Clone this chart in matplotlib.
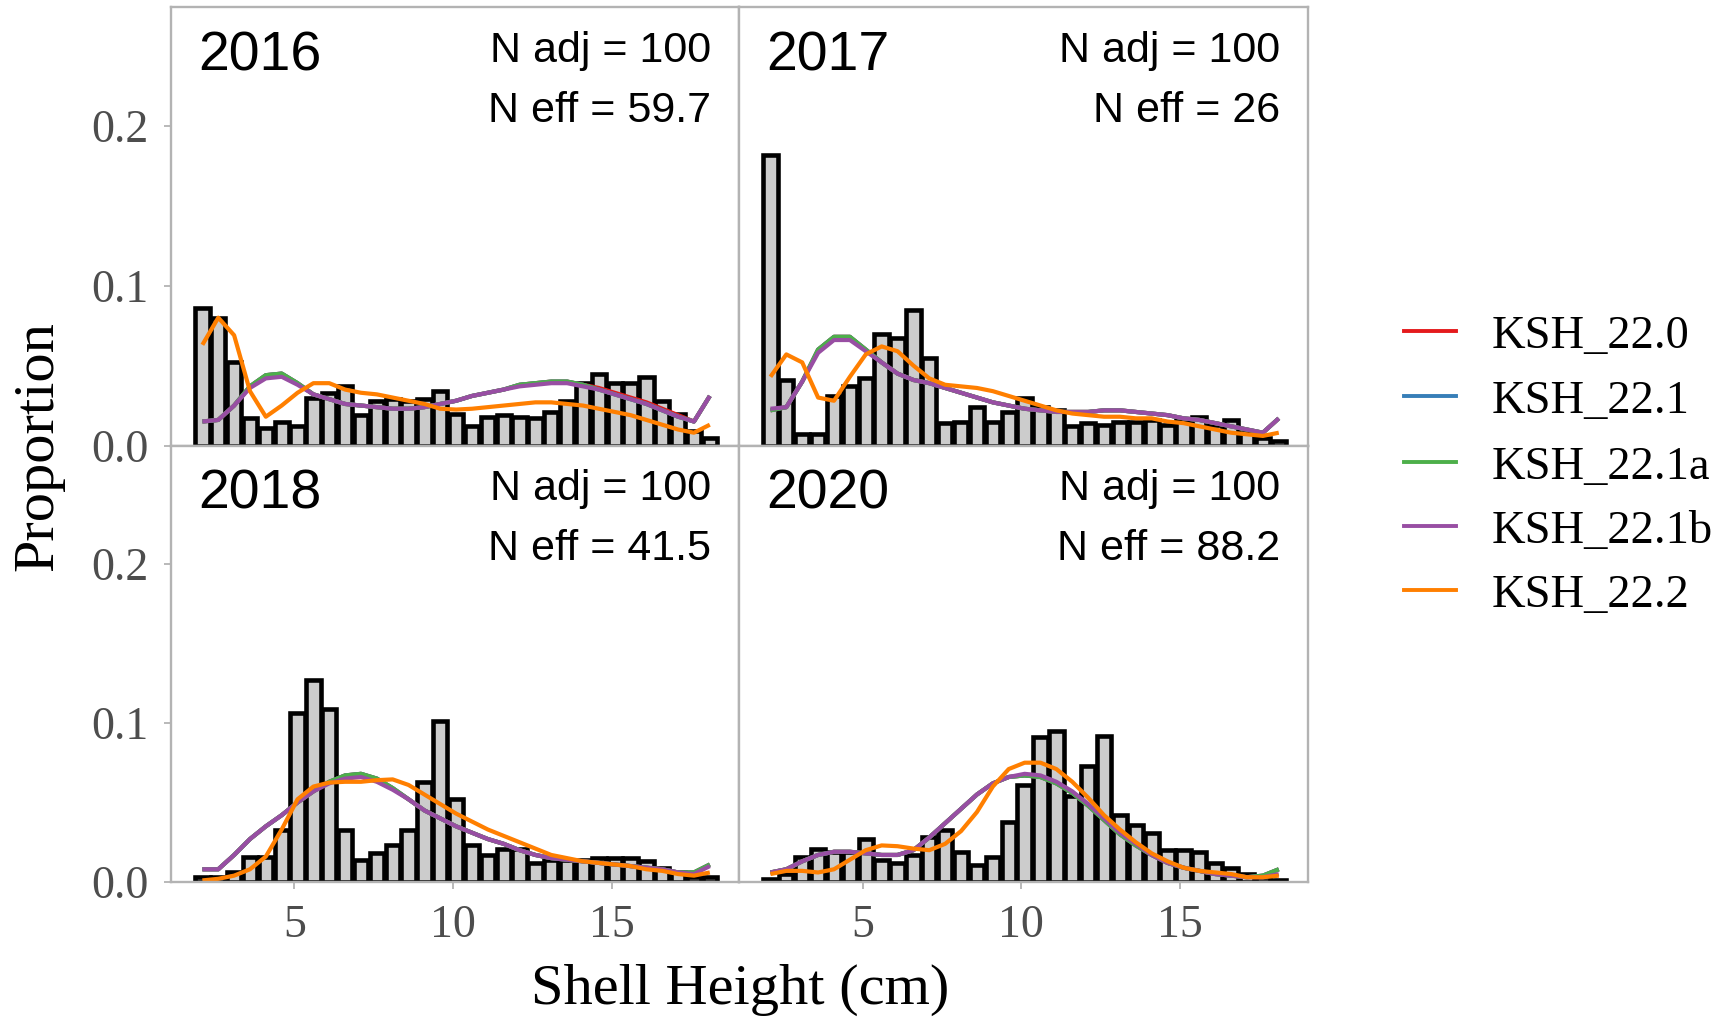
import matplotlib
matplotlib.use("Agg")
import matplotlib.pyplot as plt
from matplotlib.lines import Line2D

plt.rcParams['font.family'] = ['Liberation Serif', 'DejaVu Serif']

# ---------------- data ----------------
shell_height = [2.1, 2.6, 3.1, 3.6, 4.1, 4.6, 5.1, 5.6, 6.1, 6.6, 7.1, 7.6, 8.1, 8.6, 9.1, 9.6,
                10.1, 10.6, 11.1, 11.6, 12.1, 12.6, 13.1, 13.6, 14.1, 14.6, 15.1, 15.6, 16.1,
                16.6, 17.1, 17.6, 18.1]

years = ['2016', '2017', '2018', '2020']
n_adj = ['100', '100', '100', '100']
n_eff = ['59.7', '26', '41.5', '88.2']
models = ['KSH_22.0', 'KSH_22.1', 'KSH_22.1a', 'KSH_22.1b', 'KSH_22.2']
model_colors = ['#E41A1C', '#377EB8', '#4DAF4A', '#984EA3', '#FF7F00']

obs_2016 = [0.086, 0.080, 0.052, 0.017, 0.011, 0.015, 0.012, 0.030, 0.033, 0.037, 0.019, 0.028,
            0.029, 0.028, 0.029, 0.034, 0.020, 0.012, 0.018, 0.019, 0.018, 0.017, 0.021, 0.028,
            0.039, 0.045, 0.039, 0.039, 0.043, 0.028, 0.020, 0.009, 0.005]
obs_2017 = [0.182, 0.041, 0.007, 0.007, 0.031, 0.037, 0.042, 0.070, 0.067, 0.085, 0.055, 0.014,
            0.015, 0.024, 0.015, 0.021, 0.030, 0.024, 0.022, 0.012, 0.014, 0.013, 0.015, 0.015,
            0.016, 0.013, 0.016, 0.018, 0.013, 0.016, 0.008, 0.005, 0.003]
obs_2018 = [0.003, 0.003, 0.006, 0.016, 0.016, 0.033, 0.106, 0.127, 0.109, 0.033, 0.014, 0.018,
            0.023, 0.033, 0.063, 0.101, 0.052, 0.023, 0.017, 0.021, 0.021, 0.012, 0.014, 0.014,
            0.014, 0.015, 0.015, 0.015, 0.013, 0.009, 0.006, 0.003, 0.003]
obs_2020 = [0.002, 0.005, 0.016, 0.021, 0.019, 0.019, 0.027, 0.014, 0.012, 0.017, 0.028, 0.033,
            0.019, 0.011, 0.016, 0.038, 0.061, 0.091, 0.095, 0.054, 0.073, 0.092, 0.042, 0.036,
            0.031, 0.020, 0.020, 0.019, 0.012, 0.009, 0.005, 0.003, 0.001]

# model fits, 2016
fit220_2016 = [0.015, 0.016, 0.025, 0.037, 0.044, 0.045, 0.039, 0.032, 0.029, 0.026, 0.025, 0.024,
               0.023, 0.023, 0.024, 0.026, 0.028, 0.031, 0.033, 0.035, 0.038, 0.039, 0.040, 0.040,
               0.038, 0.036, 0.033, 0.030, 0.027, 0.023, 0.019, 0.015, 0.031]
fit221_2016 = [0.015, 0.016, 0.025, 0.037, 0.044, 0.045, 0.039, 0.032, 0.029, 0.026, 0.025, 0.024,
               0.023, 0.023, 0.024, 0.026, 0.028, 0.031, 0.033, 0.035, 0.038, 0.039, 0.040, 0.040,
               0.038, 0.035, 0.032, 0.029, 0.026, 0.022, 0.018, 0.015, 0.031]
fit221a_2016 = [0.015, 0.016, 0.025, 0.037, 0.044, 0.045, 0.039, 0.032, 0.029, 0.026, 0.025, 0.024,
                0.023, 0.023, 0.024, 0.026, 0.028, 0.031, 0.033, 0.035, 0.038, 0.039, 0.040, 0.040,
                0.038, 0.035, 0.032, 0.029, 0.026, 0.022, 0.018, 0.015, 0.031]
fit221b_2016 = [0.015, 0.016, 0.025, 0.036, 0.042, 0.043, 0.038, 0.032, 0.029, 0.026, 0.025, 0.024,
                0.023, 0.023, 0.024, 0.026, 0.028, 0.031, 0.033, 0.035, 0.037, 0.038, 0.039, 0.039,
                0.037, 0.035, 0.032, 0.029, 0.026, 0.022, 0.018, 0.015, 0.031]
fit222_2016 = [0.063, 0.080, 0.069, 0.034, 0.018, 0.025, 0.033, 0.039, 0.039, 0.035, 0.033, 0.032,
               0.030, 0.028, 0.026, 0.023, 0.0225, 0.023, 0.024, 0.025, 0.026, 0.027, 0.027, 0.026,
               0.025, 0.023, 0.021, 0.019, 0.016, 0.013, 0.010, 0.008, 0.013]

# model fits, 2017
fit220_2017 = [0.022, 0.024, 0.040, 0.060, 0.068, 0.068, 0.060, 0.052, 0.045, 0.041, 0.039, 0.036,
               0.033, 0.030, 0.027, 0.025, 0.023, 0.022, 0.021, 0.021, 0.021, 0.022, 0.022, 0.021,
               0.020, 0.019, 0.017, 0.016, 0.014, 0.012, 0.010, 0.008, 0.017]
fit221_2017 = [0.022, 0.024, 0.040, 0.060, 0.068, 0.068, 0.060, 0.052, 0.045, 0.041, 0.039, 0.036,
               0.033, 0.030, 0.027, 0.025, 0.023, 0.022, 0.021, 0.021, 0.021, 0.022, 0.022, 0.021,
               0.020, 0.019, 0.017, 0.016, 0.014, 0.012, 0.010, 0.008, 0.017]
fit221a_2017 = [0.022, 0.024, 0.040, 0.060, 0.068, 0.068, 0.060, 0.052, 0.045, 0.041, 0.039, 0.036,
                0.033, 0.030, 0.027, 0.025, 0.023, 0.022, 0.021, 0.021, 0.021, 0.022, 0.022, 0.021,
                0.020, 0.019, 0.017, 0.016, 0.014, 0.012, 0.010, 0.008, 0.017]
fit221b_2017 = [0.023, 0.024, 0.040, 0.058, 0.066, 0.066, 0.059, 0.052, 0.045, 0.041, 0.039, 0.036,
                0.033, 0.030, 0.027, 0.025, 0.023, 0.022, 0.021, 0.021, 0.021, 0.022, 0.022, 0.021,
                0.020, 0.019, 0.017, 0.016, 0.014, 0.012, 0.010, 0.008, 0.017]
fit222_2017 = [0.043, 0.057, 0.052, 0.030, 0.028, 0.043, 0.057, 0.062, 0.059, 0.050, 0.042, 0.038,
               0.037, 0.036, 0.034, 0.031, 0.028, 0.025, 0.022, 0.020, 0.019, 0.018, 0.018, 0.017,
               0.017, 0.015, 0.014, 0.012, 0.010, 0.008, 0.007, 0.006, 0.008]

# model fits, 2018
fit220_2018 = [0.008, 0.008, 0.017, 0.027, 0.035, 0.042, 0.050, 0.057, 0.063, 0.067, 0.068, 0.065,
               0.059, 0.052, 0.045, 0.040, 0.035, 0.031, 0.027, 0.024, 0.020, 0.017, 0.015, 0.014,
               0.013, 0.012, 0.011, 0.010, 0.009, 0.008, 0.006, 0.006, 0.011]
fit221_2018 = [0.008, 0.008, 0.017, 0.027, 0.035, 0.042, 0.050, 0.057, 0.063, 0.067, 0.068, 0.065,
               0.059, 0.052, 0.045, 0.040, 0.035, 0.031, 0.027, 0.024, 0.020, 0.017, 0.015, 0.014,
               0.013, 0.012, 0.011, 0.010, 0.009, 0.008, 0.006, 0.006, 0.011]
fit221a_2018 = [0.008, 0.008, 0.017, 0.027, 0.035, 0.042, 0.050, 0.057, 0.063, 0.067, 0.068, 0.065,
                0.059, 0.052, 0.045, 0.040, 0.035, 0.031, 0.027, 0.024, 0.020, 0.017, 0.015, 0.014,
                0.013, 0.012, 0.011, 0.010, 0.009, 0.008, 0.006, 0.006, 0.011]
fit221b_2018 = [0.008, 0.008, 0.017, 0.027, 0.035, 0.042, 0.050, 0.057, 0.062, 0.065, 0.066, 0.063,
                0.058, 0.052, 0.045, 0.040, 0.035, 0.031, 0.027, 0.024, 0.020, 0.017, 0.015, 0.014,
                0.013, 0.012, 0.011, 0.010, 0.009, 0.008, 0.006, 0.005, 0.010]
fit222_2018 = [0.001, 0.002, 0.004, 0.008, 0.016, 0.033, 0.052, 0.060, 0.0625, 0.063, 0.063, 0.064,
               0.0645, 0.061, 0.055, 0.049, 0.043, 0.038, 0.033, 0.029, 0.025, 0.021, 0.017, 0.015,
               0.013, 0.012, 0.011, 0.010, 0.008, 0.007, 0.005, 0.004, 0.006]

# model fits, 2020
fit220_2020 = [0.006, 0.008, 0.013, 0.017, 0.019, 0.019, 0.018, 0.017, 0.017, 0.020, 0.028, 0.037,
               0.046, 0.055, 0.062, 0.066, 0.067, 0.066, 0.062, 0.056, 0.048, 0.039, 0.030, 0.023,
               0.017, 0.012, 0.009, 0.007, 0.005, 0.004, 0.003, 0.004, 0.008]
fit221_2020 = [0.006, 0.008, 0.013, 0.017, 0.019, 0.019, 0.018, 0.017, 0.017, 0.020, 0.028, 0.037,
               0.046, 0.055, 0.062, 0.066, 0.067, 0.066, 0.062, 0.056, 0.048, 0.039, 0.030, 0.023,
               0.017, 0.012, 0.009, 0.007, 0.005, 0.004, 0.003, 0.004, 0.008]
fit221a_2020 = [0.006, 0.008, 0.013, 0.017, 0.019, 0.019, 0.018, 0.017, 0.017, 0.020, 0.028, 0.037,
                0.046, 0.055, 0.062, 0.066, 0.067, 0.066, 0.062, 0.056, 0.048, 0.039, 0.030, 0.023,
                0.017, 0.012, 0.009, 0.007, 0.005, 0.004, 0.003, 0.004, 0.008]
fit221b_2020 = [0.006, 0.008, 0.013, 0.017, 0.019, 0.019, 0.018, 0.017, 0.017, 0.020, 0.028, 0.037,
                0.046, 0.055, 0.062, 0.066, 0.068, 0.067, 0.063, 0.057, 0.049, 0.040, 0.031, 0.024,
                0.017, 0.012, 0.009, 0.007, 0.005, 0.004, 0.003, 0.003, 0.005]
fit222_2020 = [0.005, 0.007, 0.007, 0.006, 0.008, 0.014, 0.020, 0.023, 0.0225, 0.021, 0.020, 0.024,
               0.032, 0.044, 0.060, 0.071, 0.075, 0.075, 0.071, 0.063, 0.053, 0.042, 0.033, 0.025,
               0.018, 0.013, 0.009, 0.007, 0.006, 0.005, 0.003, 0.003, 0.004]

observed = [obs_2016, obs_2017, obs_2018, obs_2020]
fits = [
    [fit220_2016, fit221_2016, fit221a_2016, fit221b_2016, fit222_2016],
    [fit220_2017, fit221_2017, fit221a_2017, fit221b_2017, fit222_2017],
    [fit220_2018, fit221_2018, fit221a_2018, fit221b_2018, fit222_2018],
    [fit220_2020, fit221_2020, fit221a_2020, fit221b_2020, fit222_2020],
]

# ---------------- layout ----------------
W, H = 1729, 1024
fig = plt.figure(figsize=(W / 100, H / 100), dpi=100)

xl, xm, xr = 171 / W, 739 / W, 1308 / W
yt, ym, yb = 1 - 7 / H, 1 - 445.5 / H, 1 - 882 / H
rects = [
    [xl, ym, xm - xl, yt - ym],
    [xm, ym, xr - xm, yt - ym],
    [xl, yb, xm - xl, ym - yb],
    [xm, yb, xr - xm, ym - yb],
]

grey_line = '#b3b3b3'
tick_col = '#4d4d4d'
sans = ['Liberation Sans', 'DejaVu Sans']

for k, rect in enumerate(rects):
    ax = fig.add_axes(rect)
    ax.bar(shell_height, observed[k], width=0.45, color='#cccccc', edgecolor='black',
           linewidth=3.3, zorder=2)
    for j, m in enumerate(models):
        ax.plot(shell_height, fits[k][j], color=model_colors[j], lw=3.0, zorder=3 + j,
                solid_capstyle='butt')
    ax.set_xlim(1.11, 19.02)
    ax.set_ylim(0, 0.2744)
    for sp in ax.spines.values():
        sp.set_color(grey_line)
        sp.set_linewidth(1.7)
        sp.set_zorder(10)
    ax.set_xticks([5, 10, 15])
    ax.set_yticks([0.0, 0.1, 0.2])
    ax.tick_params(axis='both', colors=grey_line, length=5, width=1.3, labelsize=33,
                   labelcolor=tick_col, pad=11)
    if k in (0, 2):
        ax.set_yticklabels(['0.0', '0.1', '0.2'])
    else:
        ax.tick_params(axis='y', length=0, labelleft=False)
    if k in (2, 3):
        ax.set_xticklabels(['5', '10', '15'])
    else:
        ax.tick_params(axis='x', length=0, labelbottom=False)

    ax.text(0.048, 0.855, years[k], transform=ax.transAxes, fontsize=40, family=sans,
            ha='left', va='baseline')
    ax.text(0.951, 0.875, 'N adj = ' + n_adj[k], transform=ax.transAxes, fontsize=31,
            family=sans, ha='right', va='baseline')
    ax.text(0.951, 0.737, 'N eff = ' + n_eff[k], transform=ax.transAxes, fontsize=31,
            family=sans, ha='right', va='baseline')

# axis titles
fig.text(38.6 / W, 1 - 446 / H, 'Proportion', rotation=90, fontsize=42,
         ha='center', va='center')
fig.text(740 / W, 1 - 990 / H, 'Shell Height (cm)', fontsize=42, ha='center', va='center')

# legend
row_y = [330.8, 395.9, 462.0, 526.0, 590.0]
for j, m in enumerate(models):
    y = 1 - row_y[j] / H
    fig.add_artist(Line2D([1404 / W, 1456 / W], [y, y], transform=fig.transFigure,
                          color=model_colors[j], lw=2.8))
    fig.text(1492 / W, 1 - (row_y[j] + 17) / H, m, fontsize=33.5, ha='left', va='baseline')

fig.savefig('out.png', dpi=100)
